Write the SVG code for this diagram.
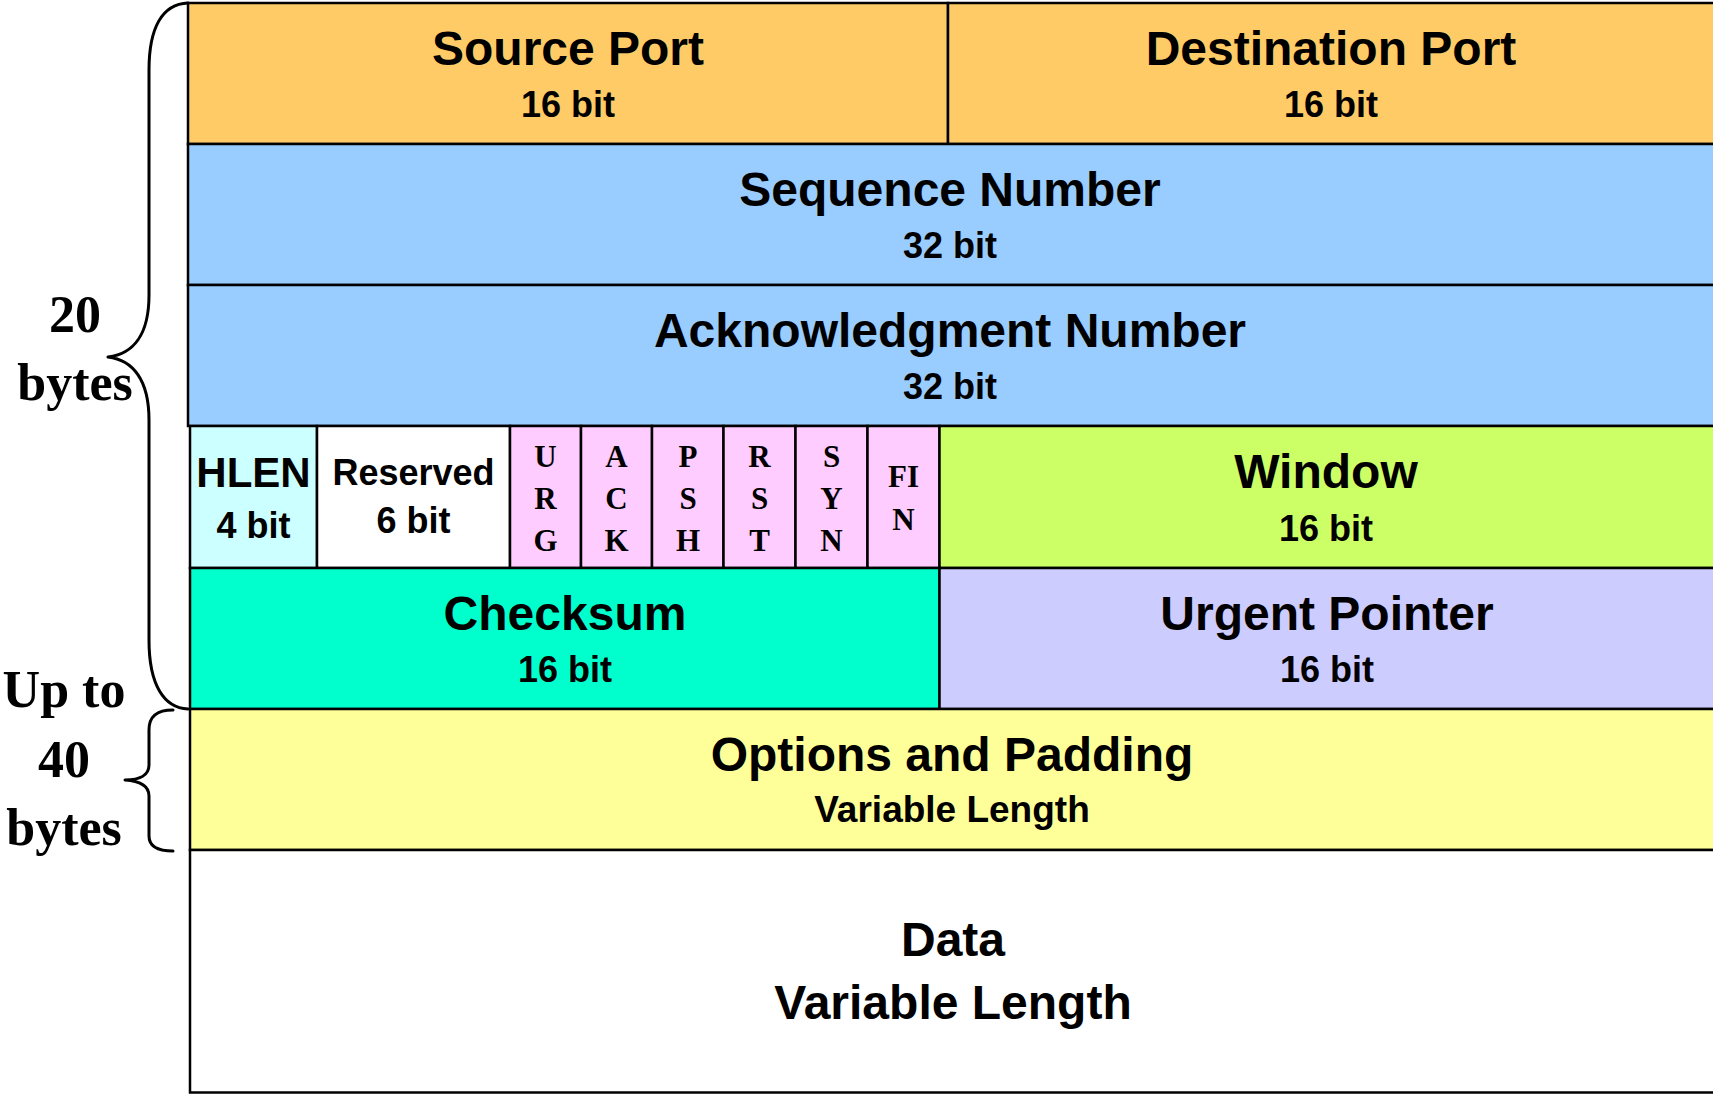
<svg xmlns="http://www.w3.org/2000/svg" width="1713" height="1095" viewBox="0 0 1713 1095">
  <style>
    .cell { stroke: #000; stroke-width: 2.5; }
    .t { font-family: "Liberation Sans", Arial, sans-serif; font-weight: bold; text-anchor: middle; fill: #000; }
    .big { font-size: 48px; }
    .sub { font-size: 36px; }
    .flag { font-family: "Liberation Serif", "Times New Roman", serif; font-weight: bold; font-size: 31px; text-anchor: middle; fill: #000; }
    .side { font-family: "Liberation Serif", "Times New Roman", serif; font-weight: bold; font-size: 52px; text-anchor: middle; fill: #000; }
    .brace { fill: none; stroke: #000; stroke-width: 3; stroke-linecap: round; stroke-linejoin: round; }
  </style>
  <rect width="1713" height="1095" fill="#fff"/>

  <!-- row 1: ports -->
  <g id="source-port">
    <rect class="cell" x="188" y="3" width="760" height="141" fill="#FECB66"/>
    <text class="t big" x="568" y="65">Source Port</text>
    <text class="t sub" x="568" y="117">16 bit</text>
  </g>
  <g id="destination-port">
    <rect class="cell" x="948" y="3" width="770" height="141" fill="#FECB66"/>
    <text class="t big" x="1331" y="65">Destination Port</text>
    <text class="t sub" x="1331" y="117">16 bit</text>
  </g>

  <!-- row 2 -->
  <g id="sequence-number">
    <rect class="cell" x="188" y="144" width="1530" height="141" fill="#99CCFF"/>
    <text class="t big" x="950" y="206">Sequence Number</text>
    <text class="t sub" x="950" y="258">32 bit</text>
  </g>

  <!-- row 3 -->
  <g id="ack-number">
    <rect class="cell" x="188" y="285" width="1530" height="141" fill="#99CCFF"/>
    <text class="t big" x="950" y="347">Acknowledgment Number</text>
    <text class="t sub" x="950" y="399">32 bit</text>
  </g>

  <!-- row 4: header length, reserved, flags, window -->
  <g id="hlen">
    <rect class="cell" x="190" y="426" width="127" height="142" fill="#CCFFFF"/>
    <text class="t" style="font-size:42px" x="253.5" y="487">HLEN</text>
    <text class="t sub" x="253.5" y="538">4 bit</text>
  </g>
  <g id="reserved">
    <rect class="cell" x="317" y="426" width="193" height="142" fill="#FFFFFF"/>
    <text class="t sub" x="413.5" y="485">Reserved</text>
    <text class="t sub" x="413.5" y="533">6 bit</text>
  </g>
  <g id="flag-urg">
    <rect class="cell" x="510" y="426" width="71" height="142" fill="#FFCCFF"/>
    <text class="flag" x="545.5" y="467">U</text>
    <text class="flag" x="545.5" y="509">R</text>
    <text class="flag" x="545.5" y="551">G</text>
  </g>
  <g id="flag-ack">
    <rect class="cell" x="581" y="426" width="71" height="142" fill="#FFCCFF"/>
    <text class="flag" x="616.5" y="467">A</text>
    <text class="flag" x="616.5" y="509">C</text>
    <text class="flag" x="616.5" y="551">K</text>
  </g>
  <g id="flag-psh">
    <rect class="cell" x="652" y="426" width="71.5" height="142" fill="#FFCCFF"/>
    <text class="flag" x="688" y="467">P</text>
    <text class="flag" x="688" y="509">S</text>
    <text class="flag" x="688" y="551">H</text>
  </g>
  <g id="flag-rst">
    <rect class="cell" x="723.5" y="426" width="72" height="142" fill="#FFCCFF"/>
    <text class="flag" x="759.5" y="467">R</text>
    <text class="flag" x="759.5" y="509">S</text>
    <text class="flag" x="759.5" y="551">T</text>
  </g>
  <g id="flag-syn">
    <rect class="cell" x="795.5" y="426" width="72" height="142" fill="#FFCCFF"/>
    <text class="flag" x="831.5" y="467">S</text>
    <text class="flag" x="831.5" y="509">Y</text>
    <text class="flag" x="831.5" y="551">N</text>
  </g>
  <g id="flag-fin">
    <rect class="cell" x="867.5" y="426" width="72" height="142" fill="#FFCCFF"/>
    <text class="flag" x="903.5" y="487">FI</text>
    <text class="flag" x="903.5" y="530">N</text>
  </g>
  <g id="window">
    <rect class="cell" x="939.5" y="426" width="778" height="142" fill="#CCFF66"/>
    <text class="t big" x="1326" y="488">Window</text>
    <text class="t sub" x="1326" y="541">16 bit</text>
  </g>

  <!-- row 5 -->
  <g id="checksum">
    <rect class="cell" x="190" y="568" width="749.5" height="141" fill="#00FFCC"/>
    <text class="t big" x="565" y="630">Checksum</text>
    <text class="t sub" x="565" y="682">16 bit</text>
  </g>
  <g id="urgent-pointer">
    <rect class="cell" x="939.5" y="568" width="778" height="141" fill="#CCCCFF"/>
    <text class="t big" x="1327" y="630">Urgent Pointer</text>
    <text class="t sub" x="1327" y="682">16 bit</text>
  </g>

  <!-- row 6 -->
  <g id="options">
    <rect class="cell" x="190" y="709" width="1528" height="141" fill="#FFFF99"/>
    <text class="t big" x="952" y="771">Options and Padding</text>
    <text class="t" style="font-size:37px" x="952" y="822">Variable Length</text>
  </g>

  <!-- payload -->
  <g id="data">
    <rect class="cell" x="190" y="850" width="1528" height="242.5" fill="#FFFFFF"/>
    <text class="t big" x="953" y="956">Data</text>
    <text class="t big" x="953" y="1019">Variable Length</text>
  </g>

  <!-- size braces -->
  <g id="connectors">
    <path class="brace" d="M 188 3 C 162 4, 149 28, 149 70 L 149 295 C 149 335, 133 354, 108 357 C 133 360, 149 380, 149 420 L 149 640 C 149 685, 164 708, 188 709"/>
    <path class="brace" d="M 173 710 C 157 710, 149 716, 149 730 L 149 765 C 149 775, 140 780, 125 780 C 140 781, 149 786, 149 796 L 149 836 C 149 846, 157 851, 173 851"/>
  </g>

  <g id="header-size">
    <text class="side" x="75" y="332">20</text>
    <text class="side" x="75" y="400">bytes</text>
  </g>
  <g id="options-size">
    <text class="side" x="64" y="707">Up to</text>
    <text class="side" x="64" y="777">40</text>
    <text class="side" x="64" y="845">bytes</text>
  </g>
</svg>
